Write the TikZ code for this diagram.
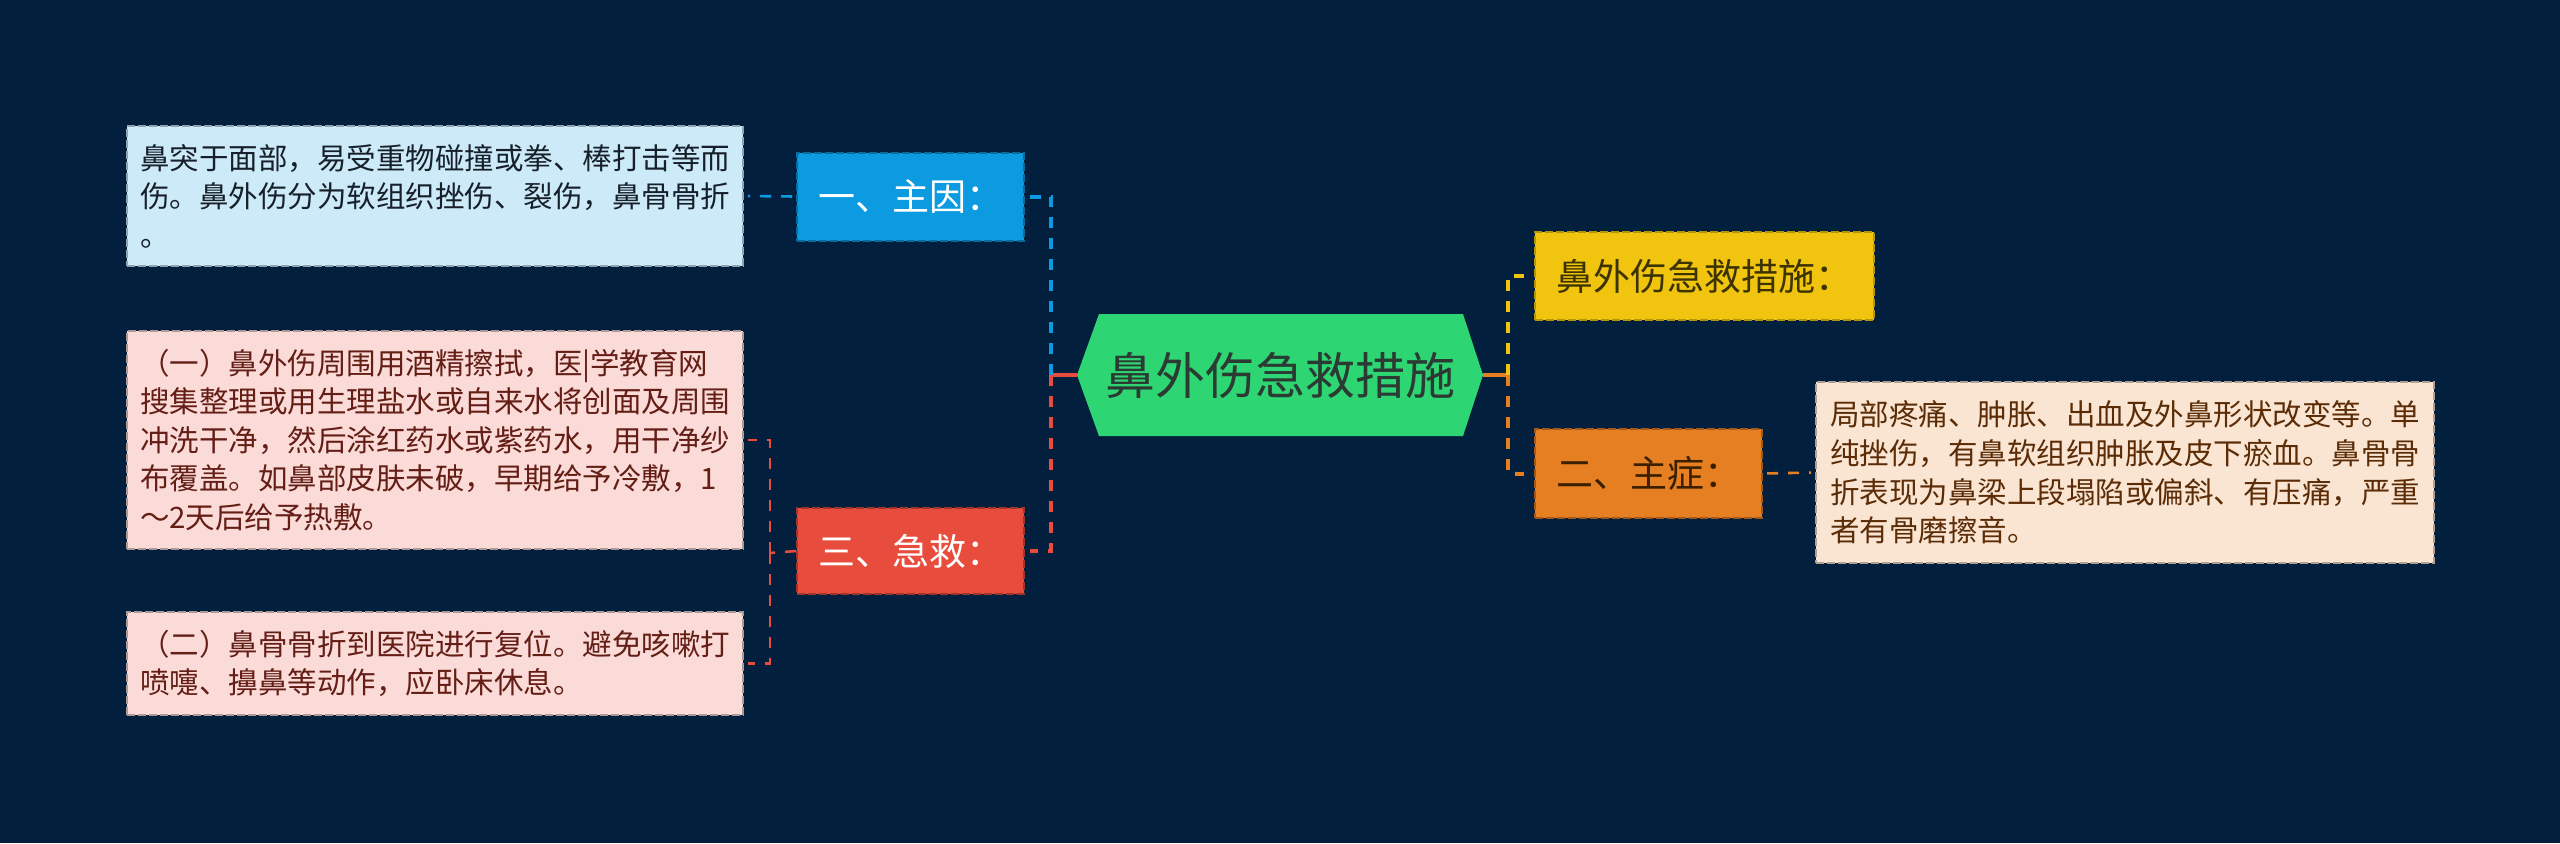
\documentclass[tikz,border=0pt]{standalone}
\usepackage{fontspec}
\setmainfont{Noto Sans CJK SC}
\usetikzlibrary{calc}
\definecolor{bg}{HTML}{02203E}
\definecolor{rootfill}{HTML}{2ED573}
\definecolor{bluefill}{HTML}{0C9BE0}
\definecolor{bluebox}{HTML}{CCEAF8}
\definecolor{redfill}{HTML}{E74C3C}
\definecolor{pinkbox}{HTML}{FADBD8}
\definecolor{yellowfill}{HTML}{F1C40F}
\definecolor{orangefill}{HTML}{E67E22}
\definecolor{peachbox}{HTML}{FAE5D3}
\definecolor{roottext}{HTML}{2B3A33}
\definecolor{bluetext}{HTML}{17202A}
\definecolor{pinktext}{HTML}{641E16}
\definecolor{peachtext}{HTML}{5B2C06}
\definecolor{yellowtext}{HTML}{3C3300}
\definecolor{orangetext}{HTML}{3B2000}
\begin{document}
\begin{tikzpicture}[x=0.5pt,y=-0.5pt,
  branchbox/.style={rectangle, inner sep=0pt, minimum height=44pt,
    font=\fontsize{18.5pt}{22pt}\selectfont, line width=1pt,
    dash pattern=on 4pt off 1.5pt},
  leafbox/.style={rectangle, inner sep=0pt, minimum width=308pt, align=left,
    font=\fontsize{14.75pt}{19.3pt}\selectfont, line width=0.9pt,
    dash pattern=on 4pt off 1.5pt},
  mainlink/.style={line width=2pt, dash pattern=on 5.5pt off 5pt},
  leaflink/.style={line width=1.3pt, dash pattern=on 5.5pt off 5pt},
  stub/.style={line width=2pt}
]
\useasboundingbox (0,0) rectangle (2560,843);
\fill[bg] (0,0) rectangle (2560,843);

% root hexagon
\fill[rootfill] (1077,375) -- (1099,314) -- (1463,314) -- (1483,375) -- (1463,436) -- (1099,436) -- cycle;
\node[font=\fontsize{25pt}{30pt}\selectfont, text=roottext, inner sep=0pt] (root) at (1280,375) {鼻外伤急救措施};
\coordinate (rootL) at (1077,375);
\coordinate (rootR) at (1483,375);
\coordinate (forkL) at (1051,375);
\coordinate (forkR) at (1508,375);
\coordinate (forkRed) at (770,553);

% branch nodes
\node[branchbox, fill=bluefill, draw=bluefill!70!black, text=white, minimum width=113.5pt] (cause) at (910.5,196.5) {一、主因：};
\node[branchbox, fill=redfill, draw=redfill!70!black, text=white, minimum width=113.5pt, minimum height=43pt] (aid) at (910.5,551) {三、急救：};
\node[branchbox, fill=yellowfill, draw=yellowfill!75!black, text=yellowtext, minimum width=169.5pt] (measure) at (1704.5,276) {鼻外伤急救措施：};
\node[branchbox, fill=orangefill, draw=orangefill!70!black, text=orangetext, minimum width=113.5pt, minimum height=44.5pt] (symptom) at (1648.5,473.5) {二、主症：};

% leaf boxes
\node[leafbox, fill=bluebox, draw=bluebox!70!black, text=bluetext, minimum height=70pt] (causetext) at (435,196) {鼻突于面部，易受重物碰撞或拳、棒打击等而\\伤。鼻外伤分为软组织挫伤、裂伤，鼻骨骨折\\。};
\node[leafbox, fill=pinkbox, draw=pinkbox!70!black, text=pinktext, minimum height=109pt] (aidone) at (435,440) {（一）鼻外伤周围用酒精擦拭，医|学教育网\\搜集整理或用生理盐水或自来水将创面及周围\\冲洗干净，然后涂红药水或紫药水，用干净纱\\布覆盖。如鼻部皮肤未破，早期给予冷敷，1\\～2天后给予热敷。};
\node[leafbox, fill=pinkbox, draw=pinkbox!70!black, text=pinktext, minimum height=51.5pt] (aidtwo) at (435,663.5) {（二）鼻骨骨折到医院进行复位。避免咳嗽打\\喷嚏、擤鼻等动作，应卧床休息。};
\node[leafbox, fill=peachbox, draw=peachbox!70!black, text=peachtext, minimum width=309pt, minimum height=90.5pt] (symptomtext) at (2125,472.5) {局部疼痛、肿胀、出血及外鼻形状改变等。单\\纯挫伤，有鼻软组织肿胀及皮下瘀血。鼻骨骨\\折表现为鼻梁上段塌陷或偏斜、有压痛，严重\\者有骨磨擦音。};

% connectors from root
\draw[stub, redfill] (rootL) -- (forkL);
\draw[mainlink, bluefill, shorten >=2.5pt] (forkL) |- (cause.east);
\draw[mainlink, redfill, shorten >=2.5pt] (forkL) |- (aid.east);
\draw[stub, orangefill] (rootR) -- (forkR);
\draw[mainlink, yellowfill, shorten >=5pt] (forkR) |- (measure.west);
\draw[mainlink, orangefill, shorten >=5pt] (forkR) |- (symptom.west);

% connectors to leaves
\draw[leaflink, bluefill, shorten <=2pt, shorten >=2pt] (cause.west) -- (causetext.east);
\draw[leaflink, redfill] (aid.west) -- (forkRed);
\draw[leaflink, redfill, shorten >=2pt] (forkRed) |- (aidone.east);
\draw[leaflink, redfill, shorten >=2pt] (forkRed) |- (aidtwo.east);
\draw[leaflink, orangefill, shorten <=2pt, shorten >=2pt] (symptom.east) -- (symptomtext.west);
\end{tikzpicture}
\end{document}
